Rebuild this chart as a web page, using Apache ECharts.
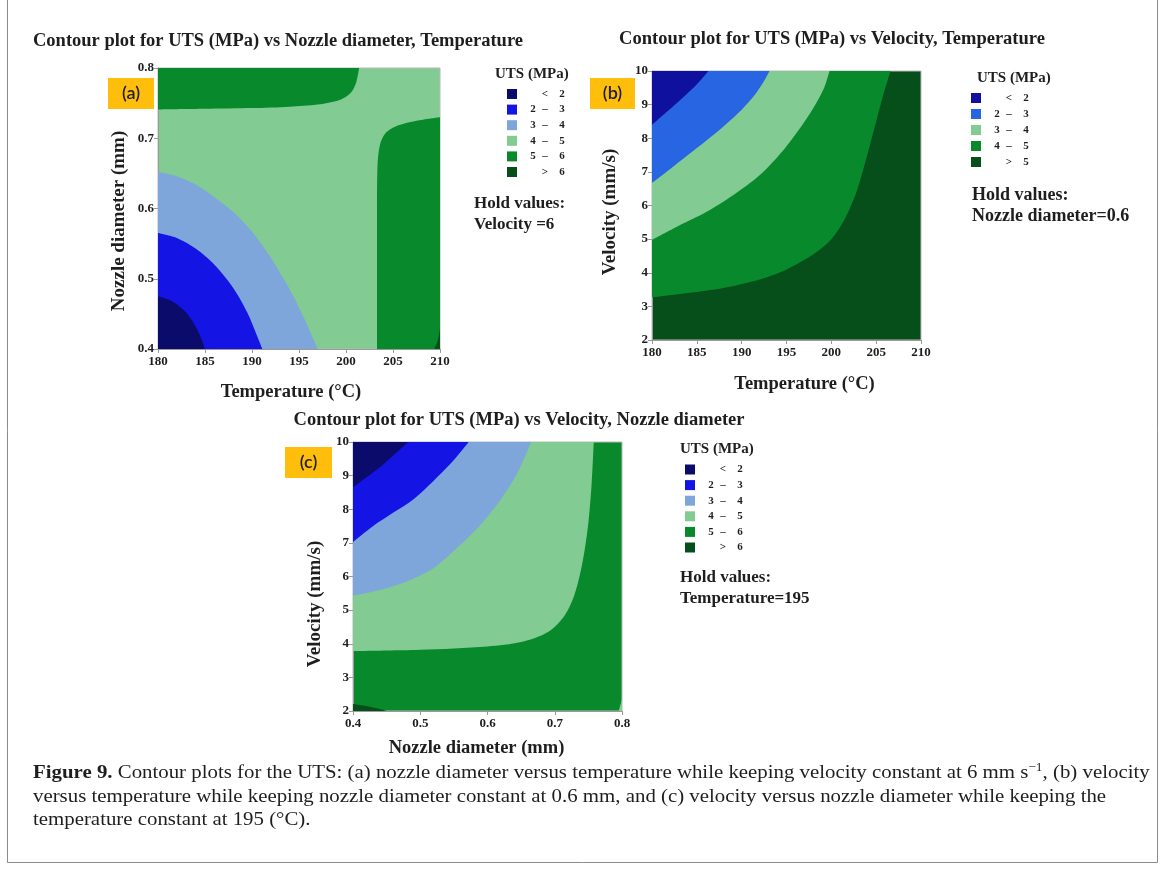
<!DOCTYPE html>
<html>
<head>
<meta charset="utf-8">
<script src="https://cdn.jsdelivr.net/npm/echarts@6/dist/echarts.min.js"></script>
<style>
  html, body { margin: 0; padding: 0; background: #ffffff; }
  #chart { width: 1168px; height: 876px; }
</style>
</head>
<body>
<div id="chart"></div>
<script>
// ---- UTS bins (MPa) and their fill colours ----
const binsSix = ['< 2', '2 – 3', '3 – 4', '4 – 5', '5 – 6', '> 6'];
const binsFive = ['< 2', '2 – 3', '3 – 4', '4 – 5', '> 5'];
const colorsSix = ['#0b0b6c', '#1414e4', '#7ea6da', '#82cb92', '#088a2c', '#064f1b'];
const colorsFive = ['#10109e', '#2765e2', '#82cb92', '#088a2c', '#064f1b'];

// ---- axis ranges ----
const tempTicks = [180, 185, 190, 195, 200, 205, 210];
const nozzleTicks = [0.4, 0.5, 0.6, 0.7, 0.8];
const velocityTicks = [2, 3, 4, 5, 6, 7, 8, 9, 10];

// ---- (a) nozzle diameter vs temperature, velocity held at 6 ----
// contour boundaries [temperature, nozzle diameter]
const aLevel2 = [[180, 0.475], [181.5, 0.468], [183, 0.452], [184, 0.432], [184.6, 0.415], [185, 0.4]];
const aLevel3 = [[180, 0.565], [182, 0.558], [184, 0.543], [186, 0.52], [188, 0.487], [189.5, 0.452], [190.5, 0.42], [191.1, 0.4]];
const aLevel4 = [[180, 0.652], [182, 0.646], [184, 0.634], [186, 0.616], [188, 0.595], [190, 0.567], [192, 0.53], [194, 0.485], [195.5, 0.445], [196.5, 0.415], [197, 0.4]];
const aLevel5Top = [[180, 0.741], [185, 0.742], [190, 0.743], [194, 0.745], [197, 0.748], [199, 0.753], [200, 0.759], [200.7, 0.768], [201.1, 0.78], [201.4, 0.8]];
const aLevel5Right = [[203.3, 0.4], [203.3, 0.6], [203.35, 0.66], [203.6, 0.69], [204.2, 0.707], [205.5, 0.718], [207.5, 0.725], [210, 0.73]];
const aLevel6 = [[209.4, 0.4], [209.7, 0.41], [209.9, 0.42], [210, 0.432]];

// ---- (b) velocity vs temperature, nozzle diameter held at 0.6 ----
// contour boundaries [temperature, velocity]
const bLevel2 = [[180, 8.4], [181.5, 8.75], [183, 9.1], [184.5, 9.47], [185.5, 9.75], [186.3, 10]];
const bLevel3 = [[180, 6.67], [182, 7.08], [184, 7.5], [186, 7.92], [188, 8.36], [190, 8.85], [191.5, 9.3], [192.5, 9.7], [193.1, 10]];
const bLevel4 = [[180, 4.98], [183, 5.4], [186, 5.8], [189, 6.3], [192, 6.9], [194.5, 7.6], [196.5, 8.3], [198, 8.9], [199.2, 9.5], [199.8, 10]];
const bLevel5 = [[180, 3.27], [184, 3.4], [188, 3.55], [192, 3.8], [195, 4.1], [198, 4.55], [200, 5.0], [201.5, 5.6], [202.8, 6.4], [203.8, 7.3], [204.8, 8.3], [205.7, 9.2], [206.6, 10]];

// ---- (c) velocity vs nozzle diameter, temperature held at 195 ----
// contour boundaries [nozzle diameter, velocity]
const cLevel2 = [[0.4, 8.65], [0.42, 8.95], [0.44, 9.25], [0.46, 9.6], [0.482, 10]];
const cLevel3 = [[0.4, 7.02], [0.43, 7.5], [0.46, 7.9], [0.49, 8.3], [0.52, 8.85], [0.545, 9.35], [0.56, 9.7], [0.572, 10]];
const cLevel4 = [[0.4, 5.43], [0.44, 5.6], [0.48, 5.85], [0.52, 6.25], [0.56, 6.95], [0.59, 7.55], [0.62, 8.3], [0.645, 9.1], [0.665, 10]];
const cLevel5 = [[0.4, 3.78], [0.5, 3.82], [0.6, 3.92], [0.65, 4.05], [0.69, 4.35], [0.715, 4.85], [0.73, 5.5], [0.742, 6.5], [0.75, 7.6], [0.755, 8.8], [0.758, 10]];
const cLevel6 = [[0.4, 2.21], [0.42, 2.15], [0.44, 2.06], [0.45, 2.0]];
const cCorner45 = [[0.795, 2.0], [0.8, 2.35]];

const SERIF = "'Liberation Serif', 'Times New Roman', serif";
const INK = '#1e1e1e';

const chart = echarts.init(document.getElementById('chart'), null, { renderer: 'canvas' });

// filled band between a contour line and the bottom ('start') or top ('end') of the plot
function band(gi, pts, color, origin) {
  return {
    type: 'line', xAxisIndex: gi, yAxisIndex: gi, data: pts,
    smooth: 0.3, symbol: 'none', showSymbol: false, silent: true,
    lineStyle: { width: 0, opacity: 0 },
    areaStyle: { color: color, opacity: 1, origin: origin },
    animation: false, clip: true
  };
}

// shift > 0 moves the axis name towards the axis end, < 0 towards its start
function valueAxis(gi, ticks, name, gap, decimals, isY, shift) {
  const pad = shift > 0 ? [0, 0, 0, 2 * shift] : [0, -2 * shift, 0, 0];
  return {
    type: 'value', gridIndex: gi,
    min: ticks[0], max: ticks[ticks.length - 1],
    interval: +(ticks[1] - ticks[0]).toFixed(3),
    axisLine: { show: true, onZero: false, lineStyle: { color: '#9a9a9a', width: 1 } },
    axisTick: { show: true, length: 4, lineStyle: { color: '#9a9a9a' } },
    splitLine: { show: false },
    axisLabel: {
      fontFamily: SERIF, fontWeight: 'bold', fontSize: 13, color: INK,
      margin: isY ? 4 : 6,
      formatter: v => Number(v).toFixed(decimals)
    },
    name: name, nameLocation: 'middle', nameGap: gap,
    nameTextStyle: { fontFamily: SERIF, fontWeight: 'bold', fontSize: isY ? 19 : 18.5, color: INK, padding: pad }
  };
}

const gridBase = { show: true, borderColor: '#b8b8b8', borderWidth: 1, containLabel: false, outerBoundsMode: 'none' };

// legend block: title, colour squares and range labels
function legendBlock(titleX, titleY, x, firstRowY, step, bins, colors) {
  const els = [{
    type: 'text', x: titleX, y: titleY,
    style: { text: 'UTS (MPa)', font: 'bold 15px ' + SERIF, fill: INK, textVerticalAlign: 'middle' }
  }];
  bins.forEach((lab, i) => {
    const cy = firstRowY + i * step;
    els.push({ type: 'rect', shape: { x: x, y: cy - 5, width: 10, height: 10 }, style: { fill: colors[i] } });
    let lo = '', mid = '', hi = '';
    if (lab[0] === '<' || lab[0] === '>') { mid = lab[0]; hi = lab.slice(2); }
    else { const p = lab.split(' – '); lo = p[0]; mid = '–'; hi = p[1]; }
    const f = 'bold 11px ' + SERIF;
    if (lo) els.push({ type: 'text', x: x + 26, y: cy, style: { text: lo, font: f, fill: INK, textAlign: 'center', textVerticalAlign: 'middle' } });
    els.push({ type: 'text', x: x + 38, y: cy, style: { text: mid, font: f, fill: INK, textAlign: 'center', textVerticalAlign: 'middle' } });
    els.push({ type: 'text', x: x + 55, y: cy, style: { text: hi, font: f, fill: INK, textAlign: 'center', textVerticalAlign: 'middle' } });
  });
  return els;
}

function holdBlock(x, y1, y2, line2, size) {
  const f = 'bold ' + size + 'px ' + SERIF;
  return [
    { type: 'text', x: x, y: y1, style: { text: 'Hold values:', font: f, fill: INK, textVerticalAlign: 'middle' } },
    { type: 'text', x: x, y: y2, style: { text: line2, font: f, fill: INK, textVerticalAlign: 'middle' } }
  ];
}

function tag(x, y, w, h, label) {
  return [
    { type: 'rect', shape: { x: x, y: y, width: w, height: h }, style: { fill: '#ffbd0c' } },
    { type: 'text', x: x + w / 2, y: y + h / 2, style: { text: label, font: '600 18px Lato, "Open Sans", sans-serif', fill: '#222', textAlign: 'center', textVerticalAlign: 'middle' } }
  ];
}

function title(cx, cy, text) {
  return { type: 'text', x: cx, y: cy, style: { text: text, font: 'bold 18.5px ' + SERIF, fill: INK, textAlign: 'center', textVerticalAlign: 'middle' } };
}

const captionLines = [
  '{b|Figure 9.} Contour plots for the UTS: (a) nozzle diameter versus temperature while keeping velocity constant at 6 mm s{sup|−1}, (b) velocity',
  'versus temperature while keeping nozzle diameter constant at 0.6 mm, and (c) velocity versus nozzle diameter while keeping the',
  'temperature constant at 195 (°C).'
];

// caption set slightly condensed in height, stretched to the column width
const captionEls = captionLines.map((t, i) => ({
  type: 'text', x: 33, y: 773 + i * 23.5, scaleX: 1.075, originX: 0, originY: 0,
  style: {
    text: t, font: '19.4px ' + SERIF, fill: INK, textVerticalAlign: 'middle', lineHeight: 23,
    rich: {
      b: { fontFamily: SERIF, fontWeight: 'bold', fontSize: 19.4, fill: INK, lineHeight: 23 },
      sup: { fontFamily: SERIF, fontSize: 12.5, fill: INK, verticalAlign: 'top', lineHeight: 12.5 }
    }
  }
}));

const option = {
  backgroundColor: '#ffffff',
  animation: false,
  grid: [
    Object.assign({ left: 158, top: 68, width: 282, height: 281, backgroundColor: colorsSix[3] }, gridBase),
    Object.assign({ left: 652, top: 71, width: 269, height: 269, backgroundColor: colorsFive[4] }, gridBase),
    Object.assign({ left: 353, top: 442, width: 269, height: 269, backgroundColor: colorsSix[4] }, gridBase)
  ],
  xAxis: [
    valueAxis(0, tempTicks, 'Temperature (°C)', 34, 0, false, -8),
    valueAxis(1, tempTicks, 'Temperature (°C)', 35, 0, false, 18),
    valueAxis(2, nozzleTicks, 'Nozzle diameter (mm)', 28, 1, false, -11)
  ],
  yAxis: [
    valueAxis(0, nozzleTicks, 'Nozzle diameter (mm)', 29, 1, true, -12.5),
    valueAxis(1, velocityTicks, 'Velocity (mm/s)', 32, 0, true, -6.5),
    valueAxis(2, velocityTicks, 'Velocity (mm/s)', 28, 0, true, -27.5)
  ],
  series: [
    // (a) base fill is the 4–5 band
    band(0, aLevel4, colorsSix[2], 'start'),
    band(0, aLevel3, colorsSix[1], 'start'),
    band(0, aLevel2, colorsSix[0], 'start'),
    band(0, aLevel5Top, colorsSix[4], 'end'),
    band(0, aLevel5Right, colorsSix[4], 'start'),
    band(0, aLevel6, colorsSix[5], 'start'),
    // (b) base fill is the > 5 band
    band(1, bLevel5, colorsFive[3], 'end'),
    band(1, bLevel4, colorsFive[2], 'end'),
    band(1, bLevel3, colorsFive[1], 'end'),
    band(1, bLevel2, colorsFive[0], 'end'),
    // (c) base fill is the 5–6 band
    band(2, cLevel5, colorsSix[3], 'end'),
    band(2, cLevel4, colorsSix[2], 'end'),
    band(2, cLevel3, colorsSix[1], 'end'),
    band(2, cLevel2, colorsSix[0], 'end'),
    band(2, cLevel6, colorsSix[5], 'start'),
    band(2, cCorner45, colorsSix[3], 'start')
  ],
  graphic: [].concat(
    [{ type: 'rect', shape: { x: 7.5, y: -5, width: 1150, height: 867.5 }, style: { fill: 'none', stroke: '#8c8c8c', lineWidth: 1 }, silent: true }],
    [title(278, 41, 'Contour plot for UTS (MPa) vs Nozzle diameter, Temperature'),
     title(832, 39, 'Contour plot for UTS (MPa) vs Velocity, Temperature'),
     title(519, 420, 'Contour plot for UTS (MPa) vs Velocity, Nozzle diameter')],
    tag(108, 78, 46, 31, '(a)'),
    tag(590, 78, 45, 31, '(b)'),
    tag(285, 447, 47, 31, '(c)'),
    legendBlock(495, 74, 507, 94, 15.6, binsSix, colorsSix),
    legendBlock(977, 78, 971, 98, 16, binsFive, colorsFive),
    legendBlock(680, 449, 685, 469.5, 15.6, binsSix, colorsSix),
    holdBlock(474, 204, 225, 'Velocity =6', 17),
    holdBlock(972, 195, 216, 'Nozzle diameter=0.6', 18),
    holdBlock(680, 578, 599, 'Temperature=195', 17),
    captionEls
  )
};

chart.setOption(option);
</script>
</body>
</html>
